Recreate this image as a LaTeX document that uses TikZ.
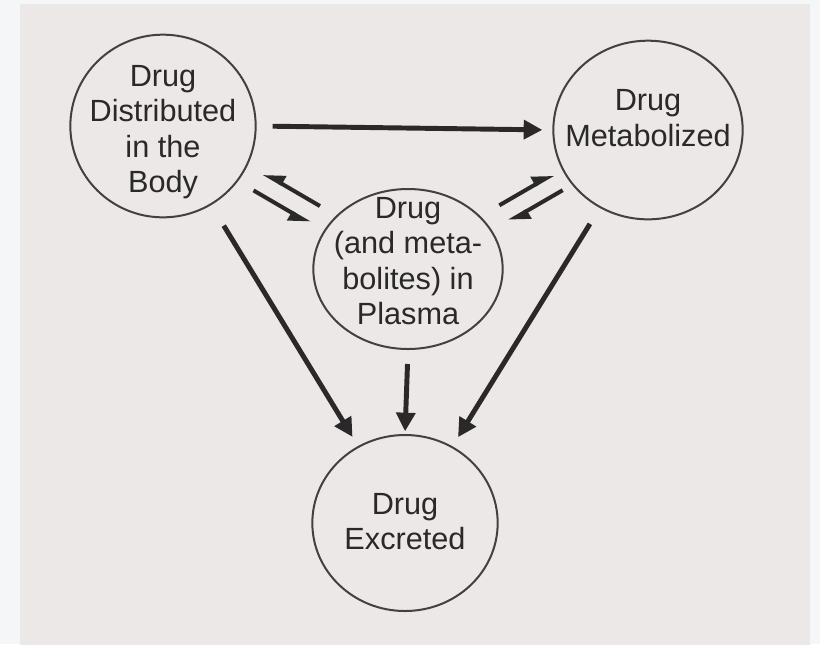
\documentclass[tikz,border=0pt]{standalone}
\usepackage{fontspec}
\setmainfont{Liberation Sans}
\usetikzlibrary{arrows.meta,calc,shapes.geometric}
\definecolor{PageGrey}{HTML}{EBE8E7}
\definecolor{FrameWhite}{HTML}{F4F6F8}
\definecolor{InkDark}{HTML}{2A2828}
\definecolor{RingGrey}{HTML}{424040}

\tikzset{
  bubble/.style={ellipse,draw=RingGrey,line width=1.5pt,inner sep=0pt},
  caption/.style={align=center,text=InkDark,font=\fontsize{23}{26.5}\selectfont},
  flow/.style={draw=InkDark,line width=3.7pt,-{Triangle[length=14pt,width=14pt]}},
  harp/.style={draw=InkDark,line width=3pt,-{Triangle[harpoon,length=13pt,width=13pt]}},
  harpsw/.style={draw=InkDark,line width=3pt,-{Triangle[harpoon,swap,length=13pt,width=13pt]}},
}

\begin{document}
\begin{tikzpicture}[x=0.75pt,y=-0.75pt]
\useasboundingbox (0,0) rectangle (820,644);
\fill[FrameWhite] (0,0) rectangle (820,644);
\fill[PageGrey] (20,4) rectangle (810,645);
% the four stages
\node[bubble,minimum width=139pt,minimum height=137pt] (dist) at (163,126) {};
\node[bubble,minimum width=142pt,minimum height=134pt] (meta) at (648,130) {};
\node[bubble,minimum width=142pt,minimum height=120pt] (plasma) at (408,269) {};
\node[bubble,minimum width=139pt,minimum height=132pt] (excr) at (405,523) {};
\node[caption] (distT) at ([yshift=-4.5pt]dist) {Drug\\Distributed\\in the\\Body};
\node[caption] (metaT) at ([yshift=9pt]meta) {Drug\\Metabolized};
\node[caption] (plasmaT) at ([yshift=6pt]plasma) {Drug\\(and meta-\\bolites) in\\Plasma};
\node[caption] (excrT) at ([yshift=1pt]excr) {Drug\\Excreted};
% one-way flows
\draw[flow,shorten <=12pt,shorten >=7.5pt] (dist.east) -- (meta.west);
\draw[flow,shorten <=18pt,shorten >=8pt] (dist) -- (excr);
\draw[flow,shorten <=14pt,shorten >=8pt] (meta) -- (excr);
\draw[flow,shorten <=10.5pt,shorten >=2pt] (plasma.south) -- (excr.north);
% exchange with plasma
\draw[harpsw] ($(dist)!0.62!(plasma)!7.5pt!90:(plasma)$) -- ($(dist)!0.39!(plasma)!7.5pt!90:(plasma)$);
\draw[harpsw] ($(dist)!0.39!(plasma)!7.5pt!-90:(plasma)$) -- ($(dist)!0.62!(plasma)!7.5pt!-90:(plasma)$);
\draw[harp] ($(meta)!0.60!(plasma)!7pt!-90:(plasma)$) -- ($(meta)!0.375!(plasma)!7pt!-90:(plasma)$);
\draw[harp] ($(meta)!0.375!(plasma)!7pt!90:(plasma)$) -- ($(meta)!0.60!(plasma)!7pt!90:(plasma)$);
\end{tikzpicture}
\end{document}
